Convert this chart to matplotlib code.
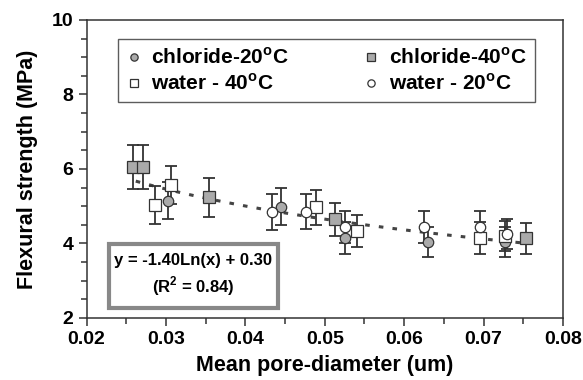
import numpy as np
import matplotlib.pyplot as plt
from matplotlib.patches import Rectangle

plt.rcParams['font.family'] = ['Liberation Sans', 'DejaVu Sans']
plt.rcParams['font.weight'] = 'bold'
plt.rcParams['mathtext.fontset'] = 'custom'
plt.rcParams['mathtext.rm'] = 'Liberation Sans:bold'
plt.rcParams['mathtext.bf'] = 'Liberation Sans:bold'

# chloride 20C (grey circles)
c20_x = [0.0303, 0.0445, 0.0526, 0.0630, 0.0727]
c20_y = [5.15, 4.99, 4.14, 4.03, 4.05]
c20_err = [0.50, 0.49, 0.43, 0.40, 0.40]

# chloride 40C (grey squares)
c40_x = [0.0258, 0.0271, 0.0354, 0.0513, 0.0754]
c40_y = [6.05, 6.05, 5.24, 4.65, 4.14]
c40_err = [0.60, 0.60, 0.52, 0.45, 0.42]

# water 40C (white squares)
w40_x = [0.0286, 0.0306, 0.0489, 0.0541, 0.0696, 0.0727]
w40_y = [5.03, 5.57, 4.97, 4.34, 4.14, 4.20]
w40_err = [0.50, 0.50, 0.47, 0.43, 0.43, 0.40]

# water 20C (white circles)
w20_x = [0.0434, 0.0476, 0.0526, 0.0625, 0.0696, 0.0729]
w20_y = [4.85, 4.85, 4.45, 4.45, 4.45, 4.25]
w20_err = [0.48, 0.47, 0.43, 0.43, 0.43, 0.40]

# log trend line as drawn on the chart
fit_a, fit_b = -1.58, -0.08
fit_range = (0.0262, 0.0748)

fig = plt.figure(figsize=(5.83, 3.80), dpi=100)
ax = fig.add_axes([0.1484, 0.1632, 0.8173, 0.7842])

xs = np.linspace(fit_range[0], fit_range[1], 200)
ax.plot(xs, fit_a * np.log(xs) + fit_b, color='#444444', lw=2.2,
        linestyle=(0, (1.5, 3)), zorder=2)

ink = '#333333'
grey = '#aaaaaa'
series = [
    (c20_x, c20_y, c20_err, 'o', grey, 'chloride-20$^{\\mathbf{o}}$C'),
    (w40_x, w40_y, w40_err, 's', 'white', 'water - 40$^{\\mathbf{o}}$C'),
    (c40_x, c40_y, c40_err, 's', grey, 'chloride-40$^{\\mathbf{o}}$C'),
    (w20_x, w20_y, w20_err, 'o', 'white', 'water - 20$^{\\mathbf{o}}$C'),
]
handles = []
for x, y, e, m, fc, lab in series:
    ax.errorbar(x, y, yerr=e, fmt='none', ecolor=ink, elinewidth=1.3,
                capsize=4.5, capthick=1.3, zorder=3)
    h, = ax.plot(x, y, m, ms=7.5 if m == 'o' else 8, mfc=fc, mec=ink,
                 mew=0.9, ls='none', label=lab, zorder=4)
    handles.append(h)

leg = ax.legend(handles=handles, ncol=2, loc='upper left',
                bbox_to_anchor=(0.066, 0.936), fontsize=15, frameon=True,
                fancybox=False, edgecolor='#333333', markerscale=0.7,
                handlelength=0.7, handletextpad=0.5, columnspacing=3.6,
                borderpad=0.4, labelspacing=0.25, borderaxespad=0)
leg.get_frame().set_linewidth(1.0)

# equation box
box = Rectangle((0.0228, 2.28), 0.0213, 1.70, fill=True, facecolor='white',
                edgecolor='#888888', lw=3, zorder=5)
ax.add_patch(box)
ax.text(0.03345, 3.53, 'y = -1.40Ln(x) + 0.30', ha='center', va='center',
        fontsize=12, fontweight='bold', zorder=6)
ax.text(0.03345, 2.86, '(R$^{\\mathbf{2}}$ = 0.84)', ha='center', va='center',
        fontsize=12, fontweight='bold', zorder=6)

ax.set_xlim(0.02, 0.08)
ax.set_ylim(2, 10)
ax.set_xticks(np.arange(0.02, 0.0801, 0.01))
ax.set_xticks(np.arange(0.025, 0.08, 0.01), minor=True)
ax.set_yticks([2, 4, 6, 8, 10])
ax.set_yticks(np.arange(2.5, 10, 0.5), minor=True)
ax.set_xticklabels(['0.02', '0.03', '0.04', '0.05', '0.06', '0.07', '0.08'])
ax.tick_params(which='major', length=6, width=1.1, labelsize=14, color=ink)
ax.tick_params(which='minor', length=4, width=1.1, color=ink)
for s in ax.spines.values():
    s.set_linewidth(1.1)
    s.set_color(ink)

ax.set_xlabel('Mean pore-diameter (um)', fontsize=15.5, fontweight='bold', labelpad=5)
ax.set_ylabel('Flexural strength (MPa)', fontsize=15.5, fontweight='bold', labelpad=10)

fig.savefig('out.png', dpi=100)
